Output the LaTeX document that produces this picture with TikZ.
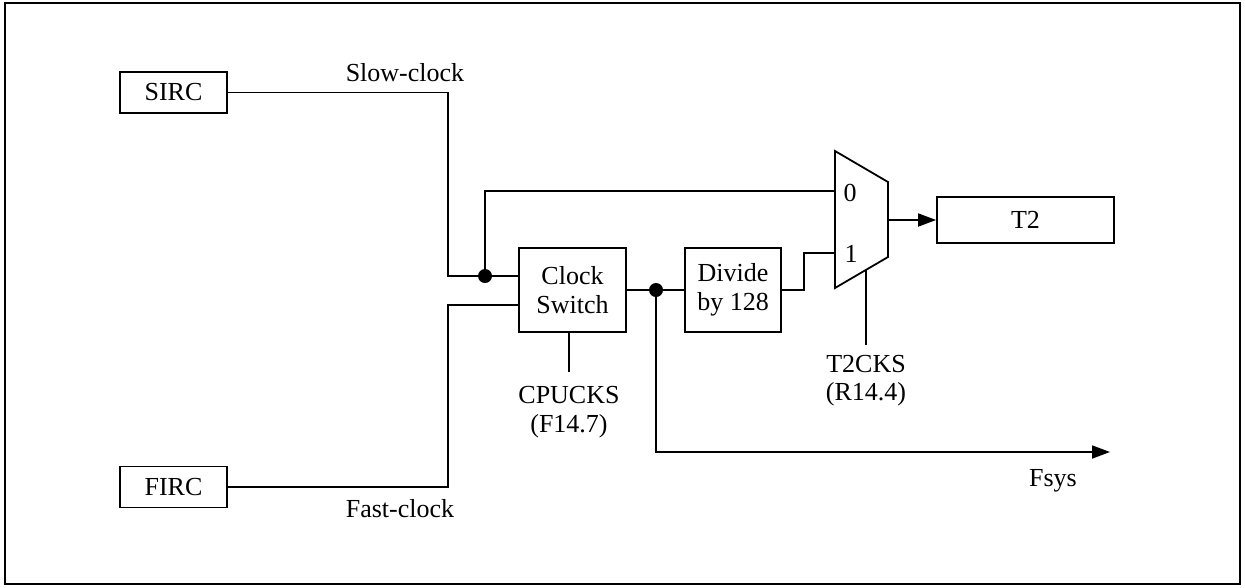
\documentclass[tikz,border=0pt]{standalone}
\usepackage{fontspec}
\setmainfont{Liberation Serif}
\usetikzlibrary{arrows.meta}
\begin{document}
\begin{tikzpicture}[x=1pt,y=-1pt,
  every node/.style={font=\fontsize{26}{29}\selectfont},
  wire/.style={line width=1.8pt},
  blk/.style={draw,line width=1.8pt,inner sep=0pt,align=center},
  lbl/.style={inner sep=0pt,anchor=base},
  dot/.style={circle,fill=black,inner sep=0pt,minimum size=14pt},
  tip/.style={-{Triangle[length=18pt,width=13pt]}}]
\useasboundingbox (0,0) rectangle (1245,587);
\draw[line width=1.8pt] (5,3) rectangle (1240,584);
% blocks
\node[blk,minimum width=107pt,minimum height=41pt] (sirc) at (173.5,92.5) {SIRC};
\node[blk,minimum width=107pt,minimum height=41pt] (firc) at (173.5,487) {FIRC};
\node[blk,minimum width=107pt,minimum height=84pt] (clk) at (572.5,290) {Clock\\Switch};
\node[blk,minimum width=96pt,minimum height=84pt] (div) at (733,290) {Divide\\by 128};
\node[blk,minimum width=177pt,minimum height=46pt] (t2) at (1025.5,220) {T2};
% mux
\coordinate (mtl) at (835,151);
\coordinate (mtr) at (888,182);
\coordinate (mbr) at (888,257);
\coordinate (mbl) at (835,288);
\draw[wire,line join=miter] (mtl) -- (mtr) -- (mbr) -- (mbl) -- cycle;
\coordinate (m0) at (835,191);
\coordinate (m1) at (835,253);
\coordinate (mout) at (888,220);
\coordinate (msel) at (866,270);
\node[lbl] (l0) at (850,201) {0};
\node[lbl] (l1) at (851,262) {1};
% junctions
\node[dot] (ja) at (485,276) {};
\node[dot] (jb) at (656,290) {};
\coordinate (sin) at (519,276);
\coordinate (fin) at (519,305);
\coordinate (fsys) at (1110,452);
% wires
\draw[wire] (sirc.east) -| (448,276) -- (sin);
\draw[wire] (firc.east) -| (448,305) -- (fin);
\draw[wire] (ja.center) |- (m0);
\draw[wire] (clk.east) -- (div.west);
\draw[wire] (div.east) -- ++(22,0) |- (m1);
\draw[wire,tip] (jb.center) |- (fsys);
\draw[wire,tip] (mout) -- (t2.west);
\draw[wire] (569,332) -- (569,372);
\draw[wire] (msel) -- (866,345);
% labels
\node[lbl] (slow) at (405,81) {Slow-clock};
\node[lbl] (fast) at (400,517) {Fast-clock};
\node[lbl] (fs) at (1053,486) {Fsys};
\node[lbl] (cpu) at (569,403) {CPUCKS};
\node[lbl] (f147) at (569,432) {(F14.7)};
\node[lbl] (t2cks) at (866,372) {T2CKS};
\node[lbl] (r144) at (866,400) {(R14.4)};
\end{tikzpicture}
\end{document}
